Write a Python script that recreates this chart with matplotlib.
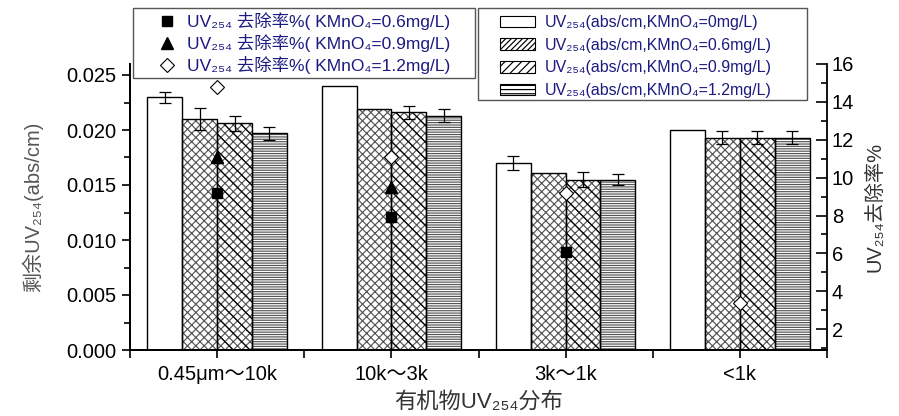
import matplotlib
matplotlib.use('Agg')
import matplotlib.pyplot as plt
import numpy as np
from matplotlib.lines import Line2D
from matplotlib.patches import Patch, Rectangle

plt.rcParams['font.family'] = ['Liberation Sans', 'Noto Sans CJK SC', 'DejaVu Sans']
plt.rcParams['hatch.linewidth'] = 0.85

categories = ['0.45μm～10k', '10k～3k', '3k～1k', '<1k']

# remaining UV254 (abs/cm) for each KMnO4 dose, with error bars
uv_0 = [0.0230, 0.0240, 0.0170, 0.0200]
uv_06 = [0.0210, 0.0219, 0.0161, 0.0193]
uv_09 = [0.0206, 0.0216, 0.0155, 0.0193]
uv_12 = [0.0197, 0.0213, 0.0155, 0.0193]
err_0 = [0.0005, 0.0, 0.0006, 0.0]
err_06 = [0.0010, 0.0, 0.0, 0.0006]
err_09 = [0.0007, 0.0006, 0.0007, 0.0006]
err_12 = [0.0006, 0.0006, 0.0005, 0.0006]

# UV254 removal rate (%)
rem_06 = [9.2, 7.9, 6.1, np.nan]
rem_09 = [11.1, 9.5, np.nan, np.nan]
rem_12 = [14.8, 11.1, 9.2, 3.4]

bar_labels = ['UV₂₅₄(abs/cm,KMnO₄=0mg/L)', 'UV₂₅₄(abs/cm,KMnO₄=0.6mg/L)',
              'UV₂₅₄(abs/cm,KMnO₄=0.9mg/L)', 'UV₂₅₄(abs/cm,KMnO₄=1.2mg/L)']
rem_labels = ['UV₂₅₄ 去除率%( KMnO₄=0.6mg/L)', 'UV₂₅₄ 去除率%( KMnO₄=0.9mg/L)',
              'UV₂₅₄ 去除率%( KMnO₄=1.2mg/L)']

W, H = 899, 416
fig = plt.figure(figsize=(W / 100, H / 100), dpi=100)
ax = fig.add_axes([130 / W, 1 - 350 / H, 697 / W, 286 / H])
ax2 = ax.twinx()

x = np.arange(1, len(categories) + 1)
w = 0.2
offsets = [-0.3, -0.1, 0.1, 0.3]
series = [uv_0, uv_06, uv_09, uv_12]
errors = [err_0, err_06, err_09, err_12]
hatches = [None, 'xxxx', 'xxxx', '-------']

for off, vals, h in zip(offsets, series, hatches):
    if h:
        ax.bar(x + off, vals, w, color='white', edgecolor='#555555', hatch=h, linewidth=0)
    else:
        ax.bar(x + off, vals, w, color='white', linewidth=0)
# extra diagonal strokes on the 0.9 mg/L bars
ax.bar(x + offsets[2], uv_09, w, color='none', edgecolor='black', hatch='\\\\', linewidth=0)
for off, vals, err in zip(offsets, series, errors):
    ax.bar(x + off, vals, w, color='none', edgecolor='black', linewidth=1.0)
    vals, err = np.array(vals), np.array(err)
    keep = err > 0
    ax.errorbar(x[keep] + off, vals[keep], yerr=err[keep], fmt='none', ecolor='black',
                elinewidth=0.9, capsize=4.5, capthick=0.9)

ax2.plot(x, rem_06, ls='none', marker='s', ms=7, color='black')
ax2.plot(x, rem_09, ls='none', marker='^', ms=8.5, color='black')
ax2.plot(x, rem_12, ls='none', marker='D', ms=7, mfc='white', mec='black', mew=0.8)

ax.set_xlim(0.5, 4.5)
ax.set_ylim(0, 0.026)
ax2.set_ylim(0.9, 16)
ax.set_xticks(x)
ax.set_xticklabels(categories)
ax.set_xticks(np.arange(0.5, 4.6, 1), minor=True)
ax.set_yticks(np.arange(0, 0.0251, 0.005))
ax.set_yticklabels(['%.3f' % v for v in np.arange(0, 0.0251, 0.005)])
ax.set_yticks(np.arange(0, 0.026, 0.0025), minor=True)
ax2.set_yticks(np.arange(2, 17, 2))
ax2.set_yticks(np.arange(1, 17, 1), minor=True)

for a in (ax, ax2):
    a.spines['top'].set_visible(False)
    for s in a.spines.values():
        s.set_linewidth(1.3)
ax.spines['right'].set_visible(False)
ax.tick_params(axis='both', which='both', direction='out', width=1.2, labelsize=14.5)
ax.tick_params(axis='both', which='major', length=6)
ax.tick_params(axis='both', which='minor', length=4)
ax.tick_params(axis='x', which='minor', length=6)
ax.tick_params(axis='x', which='major', pad=5)
ax2.tick_params(axis='y', which='both', direction='in', width=1.2, labelsize=14.5)
ax2.tick_params(axis='y', which='major', length=8)
ax2.tick_params(axis='y', which='minor', length=4)

ax.set_ylabel('剩余UV₂₅₄(abs/cm)', fontsize=14.5, color='#555555', labelpad=17)
ax2.set_ylabel('UV₂₅₄去除率%', fontsize=14.5, color='#333333', labelpad=8)
ax.set_xlabel('有机物UV₂₅₄分布', fontsize=16, color='#333333', labelpad=5)

# legend boxes are drawn as plain rectangles, the legends themselves have no frame
for (x0, y0, x1, y1) in [(133, 8, 475, 78), (478, 8, 807, 100)]:
    fig.patches.append(Rectangle((x0 / W, 1 - y1 / H), (x1 - x0) / W, (y1 - y0) / H,
                                 transform=fig.transFigure, facecolor='white',
                                 edgecolor='#555555', linewidth=1.0, zorder=5))

text_color = '#1a1a80'
rem_handles = [Line2D([], [], ls='none', marker='s', ms=7, color='black'),
               Line2D([], [], ls='none', marker='^', ms=8.5, color='black'),
               Line2D([], [], ls='none', marker='D', ms=7, mfc='white', mec='black', mew=0.8)]
leg1 = fig.legend(rem_handles, rem_labels, loc='upper left',
                  bbox_to_anchor=(158 / W, 1 - 12 / H), frameon=False,
                  fontsize=12.5, labelcolor=text_color, handlelength=1.0,
                  handletextpad=0.67, borderpad=0, labelspacing=0.22, borderaxespad=0)
leg1.set_zorder(6)

bar_handles = [Patch(facecolor='white', edgecolor='black', linewidth=0.8),
               Patch(facecolor='white', edgecolor='black', hatch='//////', linewidth=0.8),
               Patch(facecolor='white', edgecolor='black', hatch='////', linewidth=0.8),
               Patch(facecolor='white', edgecolor='black', hatch='----', linewidth=0.8)]
leg2 = fig.legend(bar_handles, bar_labels, loc='upper left',
                  bbox_to_anchor=(500 / W, 1 - 15 / H), frameon=False,
                  fontsize=11.5, labelcolor=text_color, handlelength=2.2, handleheight=0.75,
                  handletextpad=0.63, borderpad=0, labelspacing=0.48, borderaxespad=0)
leg2.set_zorder(6)

fig.savefig('out.png', dpi=100)
